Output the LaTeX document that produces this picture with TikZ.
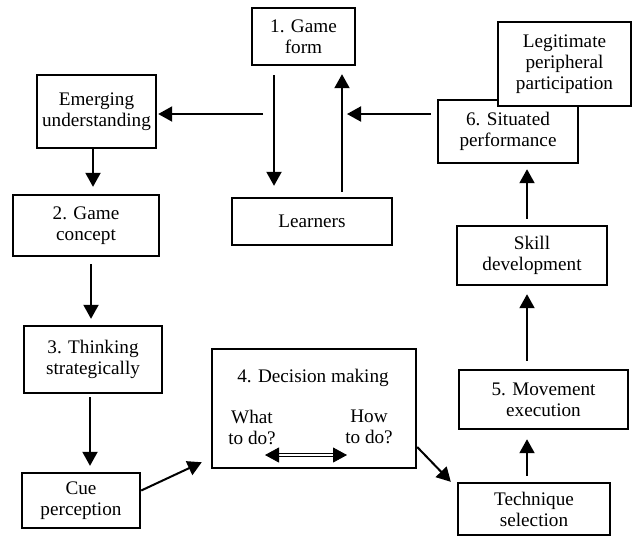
\documentclass[tikz,border=0pt]{standalone}
\usepackage{fontspec}
\setmainfont{Liberation Serif}
\usetikzlibrary{arrows.meta}
\newcommand{\lbl}{\fontsize{9.6}{10.5}\selectfont}
\tikzset{
  box/.style={draw, line width=1.2pt, fill=white, align=center, inner sep=0pt, font=\lbl},
  txt/.style={align=center, inner sep=0pt, font=\lbl},
  arr/.style={-{Triangle[width=7.5pt,length=7pt]}, line width=1pt},
  dbl/.style={{Triangle[width=7.5pt,length=7pt]}-{Triangle[width=7.5pt,length=7pt]}, line width=0.4pt, double distance=0.9pt}
}

\begin{document}
\begin{tikzpicture}[x=0.5pt,y=-0.5pt]
\useasboundingbox (0,0) rectangle (635,538);

% left column
\node [box, minimum width=51.5pt, minimum height=28.5pt] (form) at (303.5,36.5) {1. Game\\form};
\node [box, minimum width=59.5pt, minimum height=36.5pt] (emerg) at (96.5,111.5) {Emerging\\understanding};
\node [box, minimum width=73pt, minimum height=30.5pt] (concept) at (86,225.5) {2. Game\\concept};
\node [box, minimum width=69pt, minimum height=33.5pt] (thinking) at (93,359.5) {3. Thinking\\strategically};
\node [box, minimum width=59pt, minimum height=27.5pt] (cue) at (81,500.5) {Cue\\perception};
\node [box, minimum width=80pt, minimum height=23.5pt] (learners) at (312,221.5) {Learners};

% decision box
\node [box, minimum width=102pt, minimum height=59.5pt] (decision) at (314,408.5) {};
\node [txt] (dtitle) at (313,378) {4. Decision making};
\node [txt] (what) at (252,427) {What\\to do?};
\node [txt] (how) at (369,427) {How\\to do?};
\coordinate (wt) at (265,455);
\coordinate (ht) at (347,455);
\draw [dbl] (wt) -- (ht);

% right column
\node [box, minimum width=70pt, minimum height=31.5pt] (situated) at (508,131.5) {6. Situated\\performance};
\node [box, minimum width=66.5pt, minimum height=42pt] (legit) at (564.5,64) {Legitimate\\peripheral\\participation};
\node [box, minimum width=75pt, minimum height=29.5pt] (skill) at (532,255.5) {Skill\\development};
\node [box, minimum width=84.5pt, minimum height=29.5pt] (movement) at (543.5,399.5) {5. Movement\\execution};
\node [box, minimum width=76pt, minimum height=26pt] (technique) at (534,509) {Technique\\selection};

\coordinate (fork) at (263,114);
\coordinate (merge) at (347,114);

% connectors
\draw [arr, shorten <=4.5pt, shorten >=5.5pt] ([xshift=-14.75pt]form.south) -- ([xshift=-19pt]learners.north);
\draw [arr, shorten <=2.5pt, shorten >=4pt] ([xshift=15pt]learners.north) -- ([xshift=19.25pt]form.south);
\draw [arr, shorten >=0.5pt] (fork) -- (emerg.east |- fork);
\draw [arr, shorten <=3pt] (situated.west |- merge) -- (merge);
\draw [arr, shorten >=3.5pt] ([xshift=-1.75pt]emerg.south) -- ([xshift=3.5pt]concept.north);
\draw [arr, shorten <=3.5pt, shorten >=3pt] ([xshift=2.5pt]concept.south) -- ([xshift=-1pt]thinking.north);
\draw [arr, shorten <=1.5pt, shorten >=3pt] ([xshift=-1.5pt]thinking.south) -- ([xshift=4.5pt]cue.north);
\draw [arr, shorten >=5pt] ([yshift=5pt]cue.east) -- ([yshift=-24.75pt]decision.west);
\draw [arr] ([yshift=-19.25pt]decision.east) -- ([xshift=-3pt]technique.north west);
\draw [arr, shorten <=3pt, shorten >=4.5pt] ([xshift=-3.5pt]technique.north) -- ([xshift=-8.25pt]movement.south);
\draw [arr, shorten <=4pt, shorten >=4pt] ([xshift=-8.25pt]movement.north) -- ([xshift=-2.5pt]skill.south);
\draw [arr, shorten <=3pt, shorten >=2.5pt] ([xshift=-2.5pt]skill.north) -- ([xshift=9.5pt]situated.south);
\end{tikzpicture}
\end{document}
